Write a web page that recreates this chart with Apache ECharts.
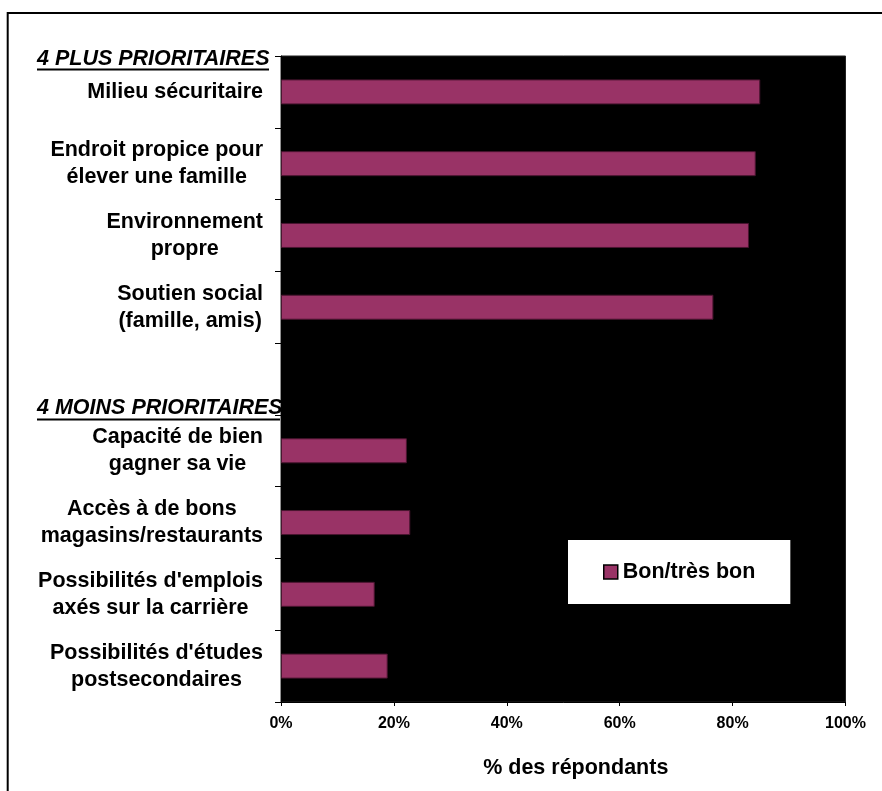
<!DOCTYPE html>
<html>
<head>
<meta charset="utf-8">
<script src="https://cdn.jsdelivr.net/npm/echarts@6/dist/echarts.min.js"></script>
<style>
html,body{margin:0;padding:0;background:#fff;}
#chart{width:882px;height:791px;}
</style>
</head>
<body>
<div id="chart"></div>
<script>
// ---- data ----
const categories = [
  "Milieu sécuritaire",
  "Endroit propice pour\nélever une famille",
  "Environnement\npropre",
  "Soutien social\n(famille, amis)",
  "",
  "Capacité de bien\ngagner sa vie",
  "Accès à de bons\nmagasins/restaurants",
  "Possibilités d'emplois\naxés sur la carrière",
  "Possibilités d'études\npostsecondaires"
];
const values = [84.9, 84.1, 82.9, 76.6, null, 22.3, 22.9, 16.6, 18.9];
const seriesName = "Bon/très bon";
const groupHeaders = ["4 PLUS PRIORITAIRES", "4 MOINS PRIORITAIRES"];
const xAxisTitle = "% des répondants";
const xMin = 0, xMax = 100, xInterval = 20;

const FONT = '"Liberation Sans", Arial, sans-serif';
const chart = echarts.init(document.getElementById('chart'));

function richLabel(v) {
  if (!v) return '';
  return v.split('\n').map(l => '{c|' + l + '}').join('\n');
}

chart.setOption({
  backgroundColor: '#fff',
  animation: false,
  grid: {
    left: 281, right: 36.5, top: 56, bottom: 89,
    show: true, backgroundColor: '#000', borderColor: '#222', borderWidth: 1
  },
  legend: {
    show: true,
    data: [seriesName],
    left: 568, top: 540,
    backgroundColor: '#fff',
    padding: [21, 35],
    icon: 'rect',
    itemWidth: 14, itemHeight: 14,
    itemStyle: { borderColor: '#000', borderWidth: 1.5 },
    textStyle: { fontFamily: FONT, fontWeight: 'bold', fontSize: 21.5, color: '#000' }
  },
  xAxis: {
    type: 'value',
    min: xMin, max: xMax, interval: xInterval,
    name: xAxisTitle,
    nameLocation: 'middle',
    nameGap: 55,
    nameTextStyle: { fontFamily: FONT, fontWeight: 'bold', fontSize: 21.5, color: '#000', padding: [0, 0, 0, 25] },
    axisLine: { show: true, lineStyle: { color: '#000', width: 1 } },
    axisTick: { show: true, length: 4, lineStyle: { color: '#000' } },
    axisLabel: { formatter: '{value}%', margin: 14, fontFamily: FONT, fontWeight: 'bold', fontSize: 16, color: '#000' },
    splitLine: { show: false }
  },
  yAxis: {
    type: 'category',
    inverse: true,
    data: categories,
    axisLine: { show: true, lineStyle: { color: '#000', width: 1 } },
    axisTick: { show: true, length: 6, alignWithLabel: false, lineStyle: { color: '#000' } },
    axisLabel: {
      margin: 18,
      formatter: richLabel,
      rich: {
        c: { fontFamily: FONT, fontWeight: 'bold', fontSize: 21.5, lineHeight: 27, color: '#000', align: 'center' }
      }
    },
    splitLine: { show: false }
  },
  series: [{
    name: seriesName,
    type: 'bar',
    data: values,
    barWidth: 25,
    itemStyle: { color: '#993366', borderColor: '#4a1530', borderWidth: 1 }
  }],
  graphic: [
    { type: 'rect', z: 100, silent: true, shape: { x: 7.7, y: 13, width: 1000, height: 1000 },
      style: { fill: 'none', stroke: '#000', lineWidth: 2 } },
    { type: 'text', z: 100, left: 37, top: 48,
      style: { text: groupHeaders[0], fontFamily: FONT, fontWeight: 'bold', fontStyle: 'italic', fontSize: 21.5, fill: '#000' } },
    { type: 'line', z: 100, shape: { x1: 37, y1: 69.5, x2: 269, y2: 69.5 }, style: { stroke: '#000', lineWidth: 2 } },
    { type: 'text', z: 100, left: 37, top: 397,
      style: { text: groupHeaders[1], fontFamily: FONT, fontWeight: 'bold', fontStyle: 'italic', fontSize: 21.5, fill: '#000' } },
    { type: 'line', z: 100, shape: { x1: 37, y1: 419.5, x2: 280, y2: 419.5 }, style: { stroke: '#000', lineWidth: 2 } }
  ]
});
</script>
</body>
</html>
